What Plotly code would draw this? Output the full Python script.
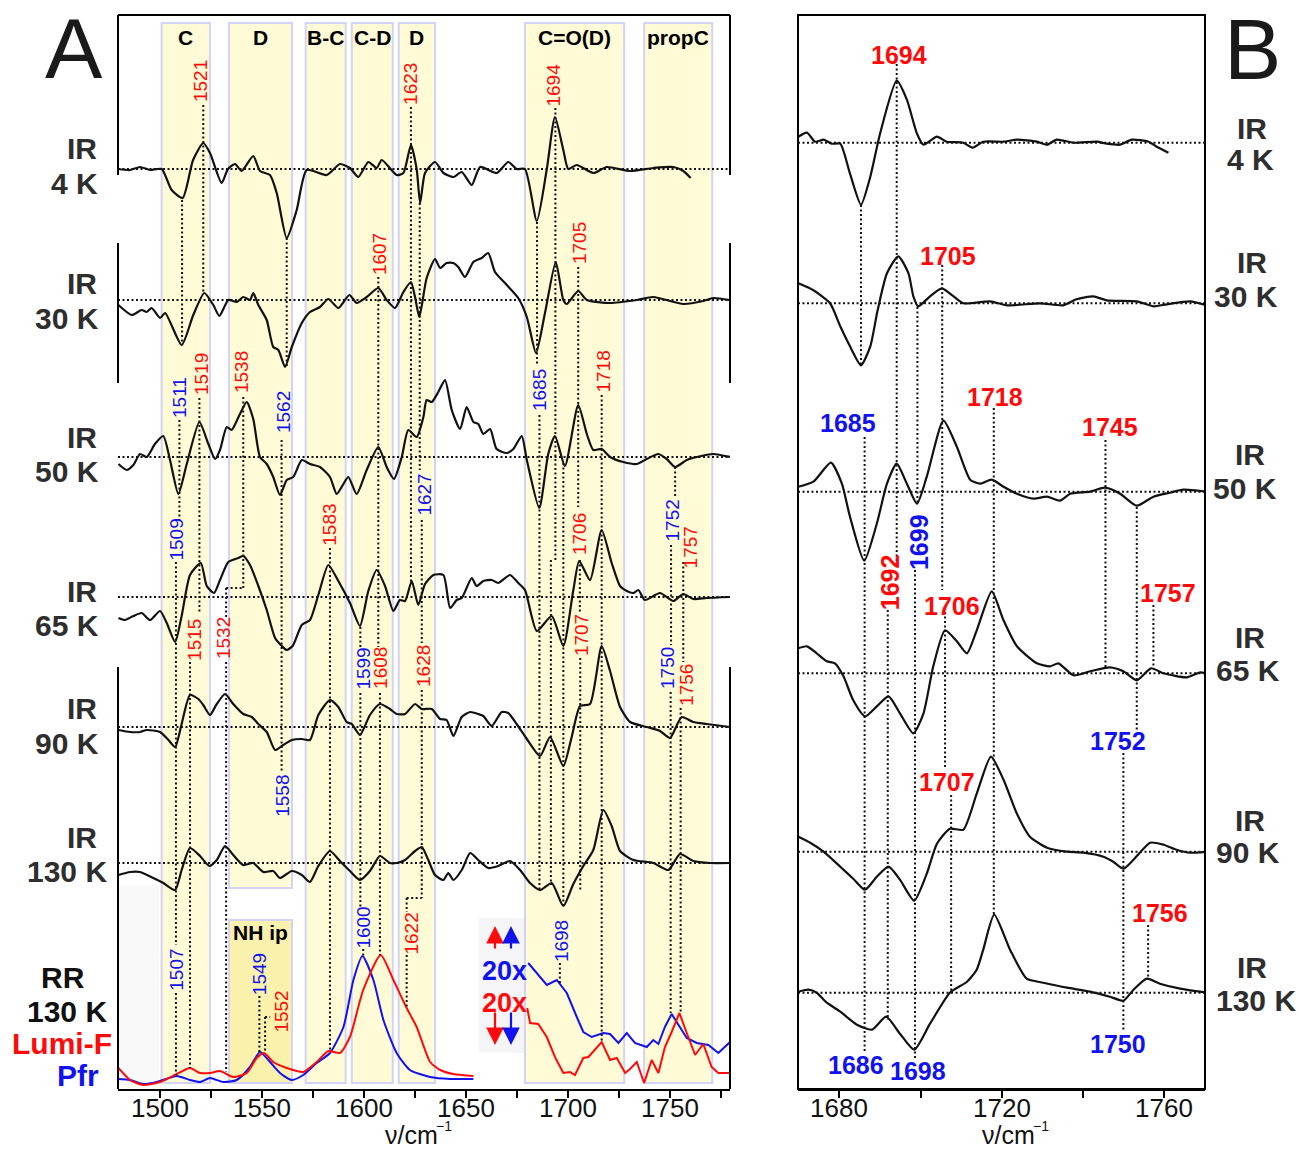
import plotly.graph_objects as go

W, H = 1299, 1150
FONT = "Liberation Sans, Arial, Helvetica, sans-serif"
RED = "#FF0A0A"
BLUE = "#1212EE"
INK = "#111111"
LAB = "#2E2E2E"

# ---------------- Panel A: IR difference spectra (wavenumber, signal) ----------------
A_IR_4K = [(1479.4,0),(1485.3,-1),(1490.2,2),(1495.1,-1),(1500.8,0),(1505.7,-21),(1511.1,-29),(1516.2,9),(1521.2,26),(1524.5,16),(1530.2,-14),(1533.3,0),(1536.8,5),(1540.0,-2),(1545.7,13),(1549.0,-2),(1553.9,-6),(1557.2,-24),(1562.1,-69),(1567.0,-41),(1571.9,-1),(1581.7,-6),(1588.2,5),(1593.1,1),(1597.2,-8),(1602.1,7),(1606.2,1),(1608.7,9),(1616.0,-6),(1619.3,-4),(1623.0,24),(1625.8,0),(1627.5,-34),(1629.9,-4),(1634.8,7),(1638.9,-4),(1643.8,-8),(1647.9,-3),(1652.8,-16),(1656.9,2),(1665.0,-4),(1670.7,7),(1674.8,0),(1678.9,0),(1684.7,-52),(1689.6,0),(1693.6,52),(1697.7,19),(1700.1,0),(1704.3,4),(1712.4,-4),(1719.0,2),(1730.4,-2),(1741.8,1),(1751.6,2),(1756.5,-2),(1760.1,-9)]
A_IR_30K = [(1479.6,-5),(1486.1,-15),(1491.0,-10),(1493.5,-12),(1495.9,-8),(1500.0,-18),(1502.5,-13),(1510.6,-45),(1516.3,-15),(1521.7,7),(1526.1,-5),(1529.1,-16),(1533.5,0),(1537.6,-2),(1540.8,3),(1544.1,0),(1545.7,7),(1548.2,-5),(1552.3,-20),(1555.5,-47),(1558.0,-50),(1561.3,-67),(1564.6,-47),(1569.5,-23),(1573.5,-12),(1578.4,-7),(1582.5,1),(1587.4,-8),(1592.8,5),(1596.4,-3),(1601.3,3),(1607.0,12),(1611.1,0),(1615.2,-8),(1619.3,8),(1623.0,18),(1625.0,3),(1627.1,-17),(1630.7,22),(1634.8,41),(1637.3,32),(1640.5,37),(1643.8,37),(1646.2,33),(1649.5,23),(1653.6,38),(1657.7,42),(1660.9,47),(1664.2,28),(1670.0,15),(1675.6,2),(1679.8,-17),(1684.3,-53),(1688.7,-13),(1694.0,38),(1697.7,0),(1699.4,-4),(1705.0,9),(1709.2,0),(1720.6,-3),(1733.7,0),(1741.8,3),(1756.5,-4),(1766.3,-1),(1771.2,2),(1779.4,0)]
A_IR_50K = [(1479.6,-7),(1483.7,-13),(1486.9,-8),(1490.2,3),(1493.5,0),(1497.5,13),(1501.6,21),(1504.9,-3),(1509.0,-37),(1513.1,-7),(1519.3,35),(1523.7,13),(1527.0,-2),(1529.4,7),(1532.7,30),(1535.1,27),(1539.2,43),(1542.5,55),(1545.7,38),(1549.0,0),(1552.3,-7),(1555.5,-20),(1558.8,-38),(1562.1,-23),(1565.3,-20),(1569.5,-3),(1573.5,-7),(1578.4,-10),(1583.3,-20),(1586.6,-37),(1589.9,-27),(1592.3,-20),(1596.4,-37),(1601.3,-13),(1607.0,10),(1611.1,-10),(1614.7,-22),(1618.5,0),(1621.7,27),(1625.8,20),(1629.1,40),(1630.7,57),(1633.2,55),(1636.4,65),(1639.7,77),(1643.0,47),(1647.1,28),(1650.3,50),(1653.6,35),(1656.0,33),(1658.5,23),(1661.8,28),(1665.0,8),(1670.0,4),(1673.2,8),(1677.3,21),(1679.8,-3),(1685.9,-51),(1690.3,3),(1693.6,21),(1698.5,-9),(1705.0,52),(1709.2,23),(1712.4,7),(1716.5,8),(1720.6,0),(1727.1,-5),(1733.7,-7),(1738.6,-2),(1744.3,3),(1748.4,-2),(1752.5,-10),(1758.2,-3),(1763.1,0),(1771.2,3),(1779.4,0)]
A_IR_65K = [(1479.6,-21),(1482.8,-23),(1486.9,-19),(1491.0,-16),(1495.1,-23),(1500.0,-14),(1503.3,-26),(1507.4,-45),(1510.6,-19),(1514.7,22),(1520.0,34),(1522.9,11),(1526.5,4),(1529.4,17),(1533.5,35),(1538.4,39),(1540.8,41),(1544.1,32),(1548.2,11),(1552.3,-13),(1556.4,-41),(1559.7,-49),(1562.1,-53),(1565.0,-49),(1569.5,-28),(1573.5,-23),(1577.6,2),(1582.5,32),(1587.4,16),(1593.1,-6),(1598.0,-29),(1602.1,6),(1606.2,27),(1610.3,11),(1614.4,-14),(1617.6,-3),(1620.1,-4),(1623.4,16),(1626.6,-8),(1629.9,13),(1634.0,22),(1638.9,22),(1642.2,-11),(1645.4,-3),(1647.9,-1),(1652.8,19),(1655.2,11),(1658.5,16),(1662.6,17),(1665.8,14),(1671.6,22),(1675.6,14),(1678.9,7),(1684.7,-34),(1692.0,-19),(1697.7,-49),(1702.6,7),(1705.5,36),(1710.8,17),(1716.5,67),(1721.4,34),(1725.5,11),(1728.8,6),(1732.0,4),(1734.5,7),(1737.7,-3),(1745.1,4),(1751.6,-4),(1756.5,3),(1761.4,-2),(1768.0,-1),(1779.4,0)]
A_IR_90K = [(1479.6,-3),(1485.3,-5),(1490.2,-5),(1493.5,-3),(1500.0,-5),(1504.1,-13),(1507.4,-20),(1510.6,3),(1514.7,32),(1518.8,28),(1521.2,22),(1524.5,12),(1527.8,23),(1531.9,33),(1535.9,23),(1540.8,13),(1545.0,10),(1548.2,3),(1552.3,-5),(1556.4,-23),(1560.4,-18),(1564.6,-13),(1569.5,-12),(1573.5,-13),(1577.6,12),(1583.3,27),(1587.4,20),(1591.5,5),(1594.0,3),(1598.0,-8),(1602.9,12),(1607.8,23),(1612.7,18),(1616.0,13),(1620.1,13),(1625.0,23),(1628.3,18),(1633.2,18),(1637.3,8),(1640.5,7),(1643.8,-9),(1647.9,10),(1652.0,15),(1656.0,13),(1658.5,11),(1662.6,1),(1667.5,15),(1670.7,14),(1674.8,3),(1679.8,-12),(1686.3,-29),(1691.2,-10),(1697.7,-39),(1701.8,-10),(1705.9,21),(1710.8,23),(1716.5,81),(1720.6,56),(1725.5,20),(1730.4,5),(1738.6,0),(1745.1,-4),(1750.0,-11),(1755.7,10),(1761.4,5),(1768.0,3),(1779.4,0)]
A_IR_130K = [(1479.6,-12),(1485.3,-9),(1490.2,-9),(1496.7,-15),(1501.6,-20),(1507.4,-27),(1510.6,-7),(1514.7,15),(1519.6,7),(1524.2,-3),(1527.8,3),(1531.9,17),(1535.9,8),(1540.8,-2),(1545.7,0),(1550.6,-9),(1555.5,-8),(1558.8,-15),(1564.6,-8),(1569.5,-12),(1573.5,-19),(1577.6,-3),(1583.3,12),(1588.2,2),(1593.1,-8),(1598.0,-17),(1602.9,-8),(1607.8,7),(1612.7,0),(1616.0,0),(1620.1,3),(1625.0,12),(1628.3,16),(1631.5,3),(1634.8,-12),(1638.9,-17),(1641.3,-10),(1643.8,-17),(1647.9,-7),(1652.0,10),(1656.0,3),(1660.9,-5),(1665.8,-3),(1671.6,2),(1676.5,-7),(1681.4,-20),(1686.3,-27),(1692.0,-20),(1697.7,-43),(1702.6,-21),(1707.5,-3),(1712.4,13),(1717.3,53),(1721.4,37),(1725.5,12),(1732.0,3),(1741.8,0),(1749.2,-7),(1754.9,9),(1761.4,2),(1769.6,0),(1779.4,0)]
A_IR_SPECTRA = [A_IR_4K, A_IR_30K, A_IR_50K, A_IR_65K, A_IR_90K, A_IR_130K]
A_STACK = [-169, -300, -457, -597, -727, -863]

# Resonance Raman spectra (130 K) - Pfr (blue) and Lumi-F (red), plus 20x zoomed C=O range
RR_PFR = [(1479.6,7),(1485.3,6),(1491.8,2),(1498.4,4),(1508.2,10),(1514.7,6),(1519.6,4),(1524.5,8),(1531.0,4),(1537.6,6),(1544.1,19),(1549.0,34),(1553.9,24),(1558.8,13),(1564.6,6),(1570.2,11),(1576.8,23),(1583.3,33),(1589.9,59),(1594.8,106),(1599.2,130),(1604.6,106),(1609.5,66),(1616.0,33),(1622.5,16),(1632.4,9),(1642.2,7),(1653.6,7)]
RR_LUMI = [(1479.6,18),(1485.3,6),(1491.8,1),(1500.0,4),(1508.2,12),(1514.7,18),(1519.6,13),(1524.5,13),(1529.4,15),(1535.9,9),(1542.5,13),(1547.4,28),(1551.0,33),(1555.5,24),(1562.1,18),(1570.2,14),(1576.8,24),(1582.5,35),(1588.2,33),(1593.1,49),(1599.6,96),(1608.2,131),(1614.4,106),(1620.9,78),(1625.8,59),(1632.4,24),(1637.3,16),(1643.8,12),(1653.6,10)]
RR_PFR_20X = [(1680.5,123),(1684.7,113),(1689.6,101),(1694.5,106),(1699.4,93),(1704.3,69),(1707.5,54),(1711.6,49),(1717.3,53),(1720.6,52),(1724.7,43),(1728.8,53),(1732.8,43),(1738.6,39),(1741.8,46),(1744.3,42),(1747.5,59),(1750.8,72),(1754.1,61),(1758.2,48),(1763.1,43),(1768.8,41),(1773.7,33),(1779.4,44)]
RR_LUMI_20X = [(1680.0,78),(1681.4,63),(1685.4,62),(1689.6,49),(1693.6,29),(1697.7,13),(1701.0,14),(1703.4,11),(1707.5,28),(1710.0,29),(1716.5,44),(1720.6,26),(1723.9,28),(1728.0,13),(1730.4,17),(1733.7,24),(1737.3,3),(1741.0,26),(1744.3,13),(1747.5,39),(1750.8,54),(1754.6,73),(1758.2,53),(1762.3,31),(1766.3,42),(1770.4,19),(1773.7,13),(1779.4,13)]
RR_BASE = -1086

# ---------------- Panel B: C=O region, expanded ----------------
B_IR_4K = [(1669.9,6),(1672.0,10),(1674.0,1),(1676.1,3),(1678.1,-1),(1680.2,-1),(1682.6,-31),(1685.3,-62),(1687.6,-34),(1690.0,9),(1694.1,62),(1696.6,43),(1699.1,9),(1700.7,-2),(1704.0,6),(1706.4,1),(1710.5,0),(1712.8,-5),(1715.4,1),(1720.4,1),(1723.7,3),(1728.6,1),(1731.1,-2),(1733.5,3),(1737.6,0),(1743.4,1),(1745.8,-1),(1749.1,-2),(1752.0,3),(1756.1,1),(1758.1,-4),(1761.0,-10)]
B_IR_30K = [(1669.9,20),(1673.6,13),(1677.7,0),(1680.2,-23),(1682.6,-43),(1685.3,-62),(1687.6,-43),(1689.4,-7),(1691.7,30),(1694.5,47),(1697.0,30),(1698.2,7),(1699.4,-3),(1702.3,7),(1705.2,15),(1708.1,7),(1710.5,0),(1717.1,2),(1721.2,-2),(1729.4,0),(1735.1,-2),(1738.4,4),(1742.5,7),(1745.8,3),(1753.2,2),(1757.3,-3),(1760.6,-1),(1766.3,2),(1770.4,-2)]
B_IR_50K = [(1669.9,5),(1673.6,10),(1677.9,29),(1680.6,8),(1682.6,-25),(1686.1,-69),(1689.2,-32),(1691.7,8),(1694.1,28),(1696.6,8),(1699.1,-12),(1701.5,15),(1705.6,71),(1708.9,45),(1712.2,12),(1714.6,8),(1717.5,12),(1720.4,5),(1723.7,-2),(1727.8,-7),(1731.1,-5),(1734.3,-9),(1736.8,-2),(1741.7,0),(1745.4,4),(1749.1,-2),(1753.2,-14),(1757.3,-5),(1761.4,-1),(1764.7,2),(1770.4,0)]
B_IR_65K = [(1669.9,25),(1672.0,27),(1674.4,20),(1676.9,12),(1678.9,10),(1681.0,-3),(1683.4,-27),(1686.3,-43),(1689.2,-33),(1692.1,-23),(1694.9,-40),(1698.2,-60),(1700.7,-40),(1703.1,7),(1706.0,43),(1708.9,32),(1711.4,20),(1713.8,43),(1717.5,82),(1720.4,53),(1723.7,27),(1728.6,10),(1731.9,7),(1733.9,10),(1737.6,-2),(1741.7,2),(1746.6,6),(1749.9,2),(1753.2,-7),(1756.7,5),(1759.8,0),(1765.5,-4),(1768.8,1),(1770.4,0)]
B_IR_90K = [(1669.9,15),(1672.8,9),(1676.1,0),(1680.2,-15),(1683.4,-27),(1686.3,-38),(1689.2,-25),(1692.1,-15),(1694.9,-28),(1698.4,-49),(1701.5,-22),(1704.0,8),(1707.2,23),(1710.5,22),(1713.8,58),(1717.3,95),(1720.4,72),(1723.7,38),(1726.9,15),(1731.1,4),(1736.0,0),(1740.1,-1),(1745.0,-5),(1747.4,-10),(1749.9,-17),(1752.4,-8),(1756.5,9),(1759.8,7),(1763.0,2),(1766.3,-1),(1770.4,0)]
B_IR_130K = [(1669.9,1),(1672.4,3),(1674.4,0),(1676.9,-10),(1680.2,-19),(1684.3,-32),(1688.0,-37),(1691.5,-24),(1694.9,-41),(1698.4,-57),(1702.3,-31),(1707.2,0),(1711.4,11),(1713.8,23),(1715.4,43),(1718.1,78),(1722.0,43),(1726.1,14),(1730.2,10),(1736.0,5),(1741.7,1),(1746.6,-4),(1749.9,-8),(1752.4,3),(1755.7,14),(1758.9,9),(1763.9,4),(1770.4,0)]
B_IR_SPECTRA = [B_IR_4K, B_IR_30K, B_IR_50K, B_IR_65K, B_IR_90K, B_IR_130K]
B_STACK = [-142.7, -303.3, -491.7, -673.3, -851.7, -992.7]

TEMPS = ["4 K", "30 K", "50 K", "65 K", "90 K", "130 K"]
A_TICKS = [1500, 1550, 1600, 1650, 1700, 1750]
B_TICKS = [1680, 1720, 1760]
A_TICK_LABELS = [str(t) for t in A_TICKS]
B_TICK_LABELS = [str(t) for t in B_TICKS]

# band assignments (label, from, to)
A_BANDS = [("C", 1500.8, 1524.5), ("D", 1533.8, 1564.7), ("B-C", 1571.4, 1591.0),
           ("C-D", 1594.0, 1614.1), ("D", 1617.0, 1634.8), ("C=O(D)", 1678.9, 1727.5),
           ("propC", 1737.3, 1770.7)]

# peak labels (text, wavenumber, stack position)
A_RED_LABELS = [("1521",1519.6,-81),("1623",1622.5,-84),("1694",1692.4,-85),("1607",1607.4,-254),
                ("1705",1705.4,-243),("1519",1520.1,-374),("1538",1539.7,-372),("1718",1716.9,-372),
                ("1583",1582.7,-525),("1706",1705.4,-534),("1757",1760.0,-547),("1515",1516.6,-640),
                ("1532",1530.9,-638),("1608",1607.8,-668),("1628",1628.9,-666),("1707",1706.4,-635),
                ("1756",1757.8,-685),("1552",1559.1,-1012),("1622",1622.8,-934)]
A_BLUE_LABELS = [("1511",1509.3,-398),("1562",1560.3,-412),("1685",1685.8,-390),("1509",1507.6,-540),
                 ("1627",1629.2,-495),("1752",1751.2,-520),("1599",1599.3,-669),("1558",1559.7,-796),
                 ("1750",1748.5,-668),("1507",1507.7,-970),("1549",1548.6,-974),("1600",1599.3,-928),
                 ("1698",1696.6,-941)]
B_RED_LABELS = [("1694",1694.7,-55,0),("1705",1706.8,-256,0),("1718",1718.3,-397,0),("1745",1746.5,-427,0),
                ("1692",1692.5,-582,-90),("1706",1707.7,-606,0),("1757",1760.9,-593,0),("1707",1706.6,-782,0),
                ("1756",1759.0,-913,0)]
B_BLUE_LABELS = [("1685",1682.2,-423,0),("1699",1699.6,-542,-90),("1752",1748.7,-741,0),
                 ("1686",1684.0,-1065,0),("1698",1699.4,-1071,0),("1750",1748.6,-1044,0)]

# dotted guide segments (x0, y0, x1, y1)
A_GUIDES = [(1521.2,-105,1521.2,-293),(1519.3,-398,1519.3,-613),(1510.8,-200,1510.8,-345),
            (1509.5,-420,1509.5,-520),(1507.8,-562,1507.8,-945),(1507.8,-993,1507.8,-1075),
            (1514.7,-662,1514.7,-1068),(1540.8,-397,1540.8,-588),(1532.4,-588,1540.8,-588),
            (1532.4,-588,1532.4,-617),(1532.4,-662,1532.4,-1072),(1562.1,-238,1562.1,-367),
            (1559.6,-440,1559.6,-772),(1583.3,-548,1583.3,-1050),(1598.2,-627,1598.2,-647),
            (1598.2,-693,1598.2,-907),(1599.6,-949,1599.6,-956),(1607.0,-277,1607.0,-647),
            (1607.8,-693,1607.8,-955),(1623.0,-107,1623.0,-582),(1627.3,-203,1627.3,-470),
            (1628.3,-520,1628.3,-643),(1628.3,-690,1628.3,-898),(1620.9,-898,1628.3,-898),
            (1620.9,-898,1620.9,-912),(1620.9,-955,1620.9,-1008),(1684.8,-222,1684.8,-365),
            (1686.0,-415,1686.0,-890),(1693.8,-108,1693.8,-560),(1691.6,-560,1691.6,-885),
            (1697.7,-463,1697.7,-906),(1696.0,-963,1696.0,-983),(1705.0,-267,1705.0,-507),
            (1705.8,-560,1705.8,-612),(1706.0,-658,1706.0,-890),(1716.5,-395,1716.5,-1042),
            (1752.5,-467,1752.5,-497),(1750.5,-545,1750.5,-645),(1750.3,-692,1750.3,-1013),
            (1756.5,-562,1756.5,-662),(1755.2,-708,1755.2,-1013),(1548.7,-996,1548.7,-1052),
            (1551.5,-1017,1551.5,-1053),(1551.5,-1017,1554.0,-1017)]
B_GUIDES = [(1685.3,-205,1685.3,-365),(1686.2,-437,1686.2,-1053),(1694.1,-64,1694.1,-567),
            (1691.9,-610,1691.9,-1020),(1699.2,-307,1699.2,-503),(1698.6,-570,1698.6,-1058),
            (1705.3,-265,1705.3,-590),(1706.0,-612,1706.0,-768),(1707.5,-795,1707.5,-992),
            (1718.0,-408,1718.0,-915),(1745.5,-440,1745.5,-667),(1753.2,-507,1753.2,-730),
            (1757.3,-605,1757.3,-668),(1749.9,-753,1749.9,-1032),(1756.0,-925,1756.0,-978)]

# ---------------- figure ----------------
fig = go.Figure()

def add_line(data, off, color, xa, ya, width=2.2, shape="spline"):
    ln = dict(color=color, width=width, shape=shape)
    if shape == "spline":
        ln["smoothing"] = 0.6
    fig.add_trace(go.Scatter(x=[p[0] for p in data], y=[off + p[1] for p in data], mode="lines",
                             line=ln, xaxis=xa, yaxis=ya, hoverinfo="skip", showlegend=False))

for spec, off in zip(A_IR_SPECTRA, A_STACK):
    add_line(spec, off, INK, "x", "y")
add_line(RR_PFR, RR_BASE, BLUE, "x", "y", 2.0)
add_line(RR_LUMI, RR_BASE, RED, "x", "y", 2.0)
add_line(RR_PFR_20X, RR_BASE, BLUE, "x", "y", 2.0, "linear")
add_line(RR_LUMI_20X, RR_BASE, RED, "x", "y", 2.0, "linear")
for spec, off in zip(B_IR_SPECTRA, B_STACK):
    add_line(spec, off, INK, "x2", "y2")

shapes = []
DOT = dict(color="#111111", width=2, dash="2px,2.5px")
BAND_FILL = "#FFFBD6"
BAND_LINE = dict(color="#D3D3F7", width=2)

# faint grey background patches
shapes.append(dict(type="rect", xref="paper", yref="paper", x0=119/W, x1=159/W, y0=1-1085/H, y1=1-885/H,
                   fillcolor="#F9F9FA", line=dict(width=0), layer="below"))
shapes.append(dict(type="rect", xref="paper", yref="paper", x0=479/W, x1=526/W, y0=1-1053/H, y1=1-918/H,
                   fillcolor="#F5F5F8", line=dict(width=0), layer="below"))

for i, (name, a, b) in enumerate(A_BANDS):
    bottom = -888 if i == 1 else -1083
    shapes.append(dict(type="rect", xref="x", yref="y", x0=a, x1=b, y0=bottom, y1=-23,
                       fillcolor=BAND_FILL, line=BAND_LINE, layer="below"))
# NH in-plane box
shapes.append(dict(type="rect", xref="x", yref="y", x0=A_BANDS[1][1], x1=A_BANDS[1][2], y0=-1083, y1=-920,
                   fillcolor="#F9F1AC", line=BAND_LINE, layer="below"))

for off in A_STACK:
    shapes.append(dict(type="line", xref="x domain", yref="y", x0=0, x1=1, y0=off, y1=off, line=DOT))
for off in B_STACK:
    shapes.append(dict(type="line", xref="x2 domain", yref="y2", x0=0, x1=1, y0=off, y1=off, line=DOT))
for (x0, y0, x1, y1) in A_GUIDES:
    shapes.append(dict(type="line", xref="x", yref="y", x0=x0, x1=x1, y0=y0, y1=y1, line=DOT))
for (x0, y0, x1, y1) in B_GUIDES:
    shapes.append(dict(type="line", xref="x2", yref="y2", x0=x0, x1=x1, y0=y0, y1=y1, line=DOT))

FRAME = dict(color="black", width=2)
shapes.append(dict(type="line", xref="x domain", yref="y domain", x0=0, x1=1, y0=1, y1=1, line=FRAME))
for (ya, yb) in [(-15, -175), (-243, -383), (-667, -1089)]:
    for xd in (0, 1):
        shapes.append(dict(type="line", xref="x domain", yref="y", x0=xd, x1=xd, y0=ya, y1=yb, line=FRAME))
shapes.append(dict(type="rect", xref="x2 domain", yref="y2 domain", x0=0, x1=1, y0=0, y1=1, line=FRAME))

ann = []
def A(text, x, y, size, color="black", bold=False, xref="x", yref="y", angle=0, xanchor="center", family=FONT):
    t = "<b>%s</b>" % text if bold else text
    ann.append(dict(text=t, x=x, y=y, xref=xref, yref=yref, showarrow=False, textangle=angle,
                    xanchor=xanchor, yanchor="middle", font=dict(size=size, color=color, family=family)))

for name, a, b in A_BANDS:
    A(name, (a + b) / 2, -37, 21, bold=True)
A("NH ip", (A_BANDS[1][1] + A_BANDS[1][2]) / 2, -932, 21, bold=True)

for t, v, y in A_RED_LABELS:
    A(t, v, y, 19, RED, angle=-90)
for t, v, y in A_BLUE_LABELS:
    A(t, v, y, 19, BLUE, angle=-90)
for t, v, y, ang in B_RED_LABELS:
    A(t, v, y, 25, RED, bold=True, xref="x2", yref="y2", angle=ang)
for t, v, y, ang in B_BLUE_LABELS:
    A(t, v, y, 25, BLUE, bold=True, xref="x2", yref="y2", angle=ang)

# tick labels (drawn as text at the axis tick values)
for v, t in zip(A_TICKS, A_TICK_LABELS):
    A(t, v, 1 - 1108 / H, 26, "#111111", xref="x", yref="paper")
for v, t in zip(B_TICKS, B_TICK_LABELS):
    A(t, v, 1 - 1108 / H, 26, "#111111", xref="x2", yref="paper")

def P(text, px, py, size, color=LAB, bold=True, family=FONT, xanchor="center"):
    A(text, px / W, 1 - py / H, size, color, bold=bold, xref="paper", yref="paper", family=family, xanchor=xanchor)

LEFT_IR_Y = [(148, 183), (284, 318), (437, 471), (591, 625), (709, 743), (837, 871)]
LEFT_T_X = [74, 67, 67, 67, 67, 67]
for (yi, yt), tx, temp in zip(LEFT_IR_Y, LEFT_T_X, TEMPS):
    P("IR", 82, yi, 30)
    P(temp, tx, yt, 30)
P("RR", 63, 977, 30, "#111111")
P("130 K", 67, 1011, 30, "#111111")
P("Lumi-F", 62, 1043, 30, RED)
P("Pfr", 78, 1075, 30, BLUE)

RIGHT_POS = [((1252, 128), (1250, 160)), ((1252, 262), (1246, 297)), ((1250, 455), (1245, 488)),
             ((1250, 637), (1248, 670)), ((1250, 820), (1248, 852)), ((1252, 967), (1256, 1000))]
for ((xi, yi), (xt, yt)), temp in zip(RIGHT_POS, TEMPS):
    P("IR", xi, yi, 30)
    P(temp, xt, yt, 30)

P("A", 74, 48, 86, "#1A1A1A", bold=False)
P("B", 1252, 49, 86, "#1A1A1A", bold=False)

P("20x", 504, 971, 27, BLUE)
P("20x", 504, 1003, 27, RED)

# axis titles: "ν/cm" with raised "−1"
P("ν/cm", 440, 1135, 25, "#111111", bold=False, xanchor="right")
P("−1", 434, 1126, 14, "#111111", bold=False, xanchor="left")
P("ν/cm", 1037, 1135, 25, "#111111", bold=False, xanchor="right")
P("−1", 1031, 1126, 14, "#111111", bold=False, xanchor="left")

def arrow(px, tip, tail, color):
    ann.append(dict(x=px / W, y=1 - tip / H, xref="paper", yref="paper", ax=0, ay=tail - tip,
                    text="", showarrow=True, arrowhead=2, arrowsize=1.6, arrowwidth=2.2, arrowcolor=color))
arrow(495, 926, 950, RED)
arrow(511, 926, 950, BLUE)
arrow(495, 1045, 1011, RED)
arrow(511, 1045, 1011, BLUE)

YDOM = [61 / H, 1135 / H]
YR = [-1089, -15]
common_x = dict(showline=True, linecolor="black", linewidth=2, ticks="outside", ticklen=7, tickwidth=2,
                tickcolor="black", showgrid=False, zeroline=False, showticklabels=False, automargin=False)

fig.update_layout(
    width=W, height=H, margin=dict(l=0, r=0, t=0, b=0),
    paper_bgcolor="white", plot_bgcolor="rgba(0,0,0,0)", showlegend=False,
    xaxis=dict(domain=[118 / W, 730 / W], range=[1479.4, 1779.4], anchor="y", tick0=1500, dtick=50,
               minor=dict(ticks="outside", tick0=1500, dtick=25, ticklen=7, tickwidth=2, tickcolor="black"),
               **common_x),
    yaxis=dict(domain=YDOM, range=YR, visible=False, anchor="x", fixedrange=True),
    xaxis2=dict(domain=[798 / W, 1205 / W], range=[1669.8, 1770.0], anchor="y2", tick0=1680, dtick=40,
                minor=dict(ticks="outside", tick0=1680, dtick=20, ticklen=7, tickwidth=2, tickcolor="black"),
                **common_x),
    yaxis2=dict(domain=YDOM, range=YR, visible=False, anchor="x2", fixedrange=True),
    shapes=shapes, annotations=ann,
)

fig.write_html("out.html")
